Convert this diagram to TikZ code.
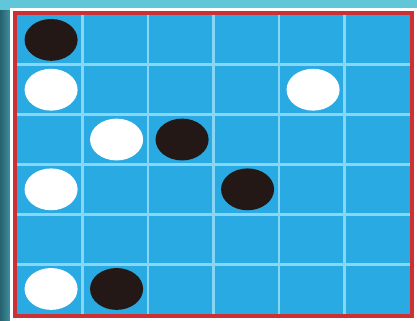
\documentclass[tikz,border=0pt]{standalone}
\usepackage{tikz}
\usepackage{xcolor}
\definecolor{boardblue}{RGB}{41,170,226}
\definecolor{gridline}{RGB}{135,214,246}
\definecolor{framered}{RGB}{204,48,52}
\definecolor{bgcyan}{RGB}{96,198,216}
\definecolor{bgteal}{RGB}{38,98,110}
\definecolor{stone}{RGB}{35,24,22}

\begin{document}
\begin{tikzpicture}[x=1.733cm,y=-1.318cm]

		\useasboundingbox (-0.26,-0.301) rectangle (6.107,6.141);

		% backdrop behind the board
		\fill[bgcyan] (-0.26,-0.301) rectangle (6.107,6.141);
		\shade[left color=bgteal, right color=bgteal!55!bgcyan] (-0.26,-0.1) rectangle (-0.107,6.141);
		\fill[white] (-0.107,-0.14) rectangle (6.107,6.141);

		% the 6x6 board
		\begin{scope}
			\fill[boardblue] (0,0) rectangle (6,6);

			% grid lines
			\foreach \i in {1,...,5} {
				\draw[gridline, line width=2.2pt] (\i,0) -- (\i,6);
				\draw[gridline, line width=2.2pt] (0,\i) -- (6,\i);
			}

			% red frame
			\draw[framered, line width=2.8pt] (-0.03,-0.04) rectangle (6.03,6.04);
		\end{scope}

		% black stones (column/row)
		\foreach \c/\r in {0/0, 2/2, 3/3, 1/5}
			\fill[stone] (\c+0.52,\r+0.5) ellipse [x radius=0.405, y radius=0.42];

		% white stones
		\foreach \c/\r in {0/1, 4/1, 1/2, 0/3, 0/5}
			\fill[white] (\c+0.52,\r+0.5) ellipse [x radius=0.405, y radius=0.42];

	\end{tikzpicture}
\end{document}
